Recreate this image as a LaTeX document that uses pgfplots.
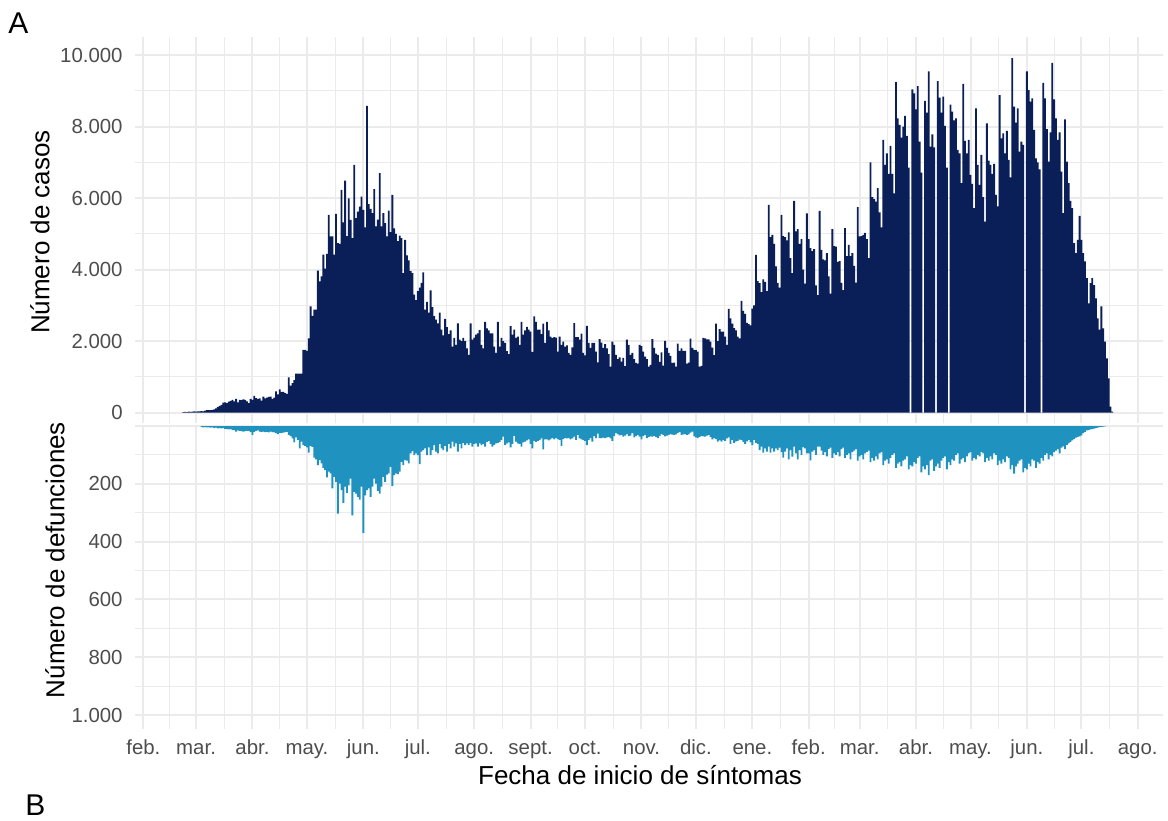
\documentclass[border=0pt]{standalone}
\usepackage{fontspec}
\setmainfont{Liberation Sans}
\usepackage{pgfplots}
\pgfplotsset{compat=1.18}
\definecolor{cases}{HTML}{0A1E57}
\definecolor{deaths}{HTML}{1F92C0}
\definecolor{gridc}{HTML}{EBEBEB}
\definecolor{ticktext}{HTML}{4D4D4D}
\pgfplotsset{
  panel/.style={
    scale only axis, width=514pt,
    xmin=-4.6, xmax=560.9,
    scaled y ticks=false, scaled x ticks=false,
    axis line style={draw=none}, major tick length=0pt, minor tick length=0pt,
    grid=both,
    major grid style={gridc, line width=1pt},
    minor grid style={gridc, line width=0.5pt},
    xtick={0,29,60,90,121,151,182,213,243,274,304,335,366,394,425,455,486,516,547},
    minor xtick={14.5,44.5,75,105.5,136,166.5,197.5,228,258.5,289,319.5,350.5,380,409.5,440,470.5,501,531.5},
    yticklabel style={font=\fontsize{10.2}{12}\selectfont, text=ticktext, anchor=east, inner sep=0pt, xshift=-6pt},
  }
}
\begin{document}
\begin{tikzpicture}
\path[use as bounding box] (0,0) rectangle (584pt,-410pt);
\begin{axis}[panel, at={(67.5pt,-18.65pt)}, anchor=north west, height=193pt,
  ymin=-296, ymax=10495,
  ytick={0,2000,4000,6000,8000,10000}, yticklabels={0,2.000,4.000,6.000,8.000,10.000},
  minor ytick={1000,3000,5000,7000,9000},
  xticklabels={}]
\addplot[ybar, bar width=1.02, bar shift=0pt, fill=cases, draw=none] coordinates {
(22,20)(23,25)(24,20)(25,30)(26,25)(27,30)(28,35)(29,30)(30,40)(31,35)
(32,45)(33,40)(34,60)(35,70)(36,75)(37,70)(38,80)(39,90)(40,120)(41,160)
(42,190)(43,220)(44,280)(45,290)(46,270)(47,310)(48,330)(49,360)(50,320)(51,390)
(52,290)(53,360)(54,350)(55,370)(56,360)(57,320)(58,270)(59,390)(60,360)(61,470)
(62,410)(63,390)(64,400)(65,340)(66,450)(67,400)(68,420)(69,440)(70,450)(71,390)
(72,420)(73,600)(74,510)(75,650)(76,580)(77,580)(78,550)(79,530)(80,990)(81,760)
(82,830)(83,910)(84,1090)(85,1090)(86,1090)(87,1090)(88,1760)(89,1760)(90,1730)(91,2080)
(92,2970)(93,2710)(94,2880)(95,2880)(96,3970)(97,3670)(98,3810)(99,4420)(100,4030)(101,4440)
(102,5530)(103,4930)(104,4930)(105,4420)(106,5560)(107,4740)(108,4720)(109,6230)(110,5320)(111,6490)
(112,4940)(113,5990)(114,5390)(115,4880)(116,6930)(117,5440)(118,5620)(119,5760)(120,6040)(121,5670)
(122,5180)(123,8580)(124,5830)(125,5700)(126,5580)(127,6250)(128,5210)(129,5400)(130,6700)(131,5210)
(132,5580)(133,5300)(134,4930)(135,5650)(136,5050)(137,6090)(138,5150)(139,5000)(140,4800)(141,4950)
(142,4880)(143,3900)(144,4830)(145,4400)(146,4260)(147,3960)(148,3900)(149,3300)(150,3150)(151,3400)
(152,3500)(153,3630)(154,3920)(155,2880)(156,3100)(157,2800)(158,3420)(159,2950)(160,2700)(161,2600)
(162,2500)(163,2800)(164,2320)(165,2160)(166,2620)(167,2390)(168,2200)(169,2300)(170,1850)(171,2090)
(172,1900)(173,2500)(174,2040)(175,2000)(176,2090)(177,2000)(178,1800)(179,1620)(180,2500)(181,2040)
(182,2100)(183,2180)(184,2220)(185,2310)(186,1900)(187,1800)(188,2540)(189,2360)(190,2300)(191,2220)
(192,2220)(193,1850)(194,1670)(195,2540)(196,1850)(197,2090)(198,2000)(199,1950)(200,1720)(201,1640)
(202,2420)(203,2180)(204,2320)(205,2090)(206,2130)(207,1900)(208,2540)(209,2180)(210,2300)(211,2400)
(212,2320)(213,2270)(214,1700)(215,2690)(216,2540)(217,2320)(218,2320)(219,2200)(220,2490)(221,1950)
(222,2540)(223,2300)(224,2130)(225,2090)(226,2110)(227,2100)(228,1710)(229,2130)(230,1900)(231,1990)
(232,1850)(233,1880)(234,1670)(235,1620)(236,1830)(237,2505)(238,2110)(239,2110)(240,2040)(241,2210)
(242,1670)(243,1600)(244,2430)(245,1950)(246,1810)(247,1950)(248,1950)(249,1710)(250,1410)(251,2060)
(252,1960)(253,1810)(254,1920)(255,1800)(256,1640)(257,1290)(258,1990)(259,1900)(260,1620)(261,1500)
(262,1550)(263,1430)(264,1530)(265,1300)(266,2040)(267,1900)(268,1620)(269,1670)(270,1500)(271,1390)
(272,1370)(273,1900)(274,1860)(275,1710)(276,1570)(277,1500)(278,1290)(279,1340)(280,2060)(281,1810)
(282,1650)(283,1620)(284,1420)(285,1690)(286,1320)(287,2010)(288,1810)(289,1670)(290,1590)(291,1390)
(292,1400)(293,1290)(294,1930)(295,1730)(296,1800)(297,1730)(298,1730)(299,1370)(300,1400)(301,2070)
(302,1810)(303,1760)(304,1750)(305,1710)(306,1290)(307,1310)(308,2090)(309,2080)(310,2050)(311,2050)
(312,1990)(313,1820)(314,1610)(315,2490)(316,2000)(317,2340)(318,2270)(319,2270)(320,2130)(321,1900)
(322,2900)(323,2640)(324,2490)(325,2365)(326,2300)(327,2130)(328,2080)(329,3130)(330,2850)(331,2760)
(332,2510)(333,2480)(334,2440)(335,2910)(336,3000)(337,4410)(338,3680)(339,3620)(340,3370)(341,3730)
(342,3660)(343,3400)(344,5810)(345,4910)(346,4970)(347,4720)(348,4090)(349,3630)(350,3500)(351,5530)
(352,4940)(353,4910)(354,4820)(355,5040)(356,4320)(357,3900)(358,5920)(359,5070)(360,5130)(361,4720)
(362,4850)(363,4000)(364,3610)(365,5570)(366,4850)(367,4600)(368,4520)(369,4570)(370,3560)(371,3290)
(372,5640)(373,4550)(374,4290)(375,4260)(376,4460)(377,3810)(378,3330)(379,5130)(380,4660)(381,4640)
(382,4220)(383,4240)(384,3630)(385,3430)(386,5160)(387,4380)(388,4690)(389,4380)(390,4460)(391,4105)
(392,3640)(393,5745)(394,4930)(395,4940)(396,4970)(397,5030)(398,4850)(399,4320)(400,7000)(401,6030)
(402,5970)(403,5900)(404,6280)(405,5600)(406,5180)(407,7630)(408,6930)(409,7250)(410,6680)(411,7460)
(412,6680)(413,6130)(414,9240)(415,8230)(416,8050)(417,7690)(418,8000)(419,8300)(420,7740)(421,6850)
(422,0)(423,9040)(424,8930)(425,8480)(426,9130)(427,7580)(428,6710)(429,0)(430,8720)(431,8390)
(432,9540)(433,7440)(434,7780)(435,7420)(436,0)(437,9270)(438,8810)(439,8390)(440,8840)(441,8020)
(442,6850)(443,0)(444,8610)(445,8420)(446,8170)(447,8230)(448,7350)(449,7250)(450,6420)(451,9190)
(452,7600)(453,7250)(454,7630)(455,6650)(456,6400)(457,5720)(458,8510)(459,6930)(460,6370)(461,7210)
(462,6030)(463,5340)(464,8090)(465,7050)(466,6930)(467,6680)(468,6960)(469,6090)(470,5770)(471,8880)
(472,7670)(473,7810)(474,7250)(475,7880)(476,7070)(477,6580)(478,9910)(479,8560)(480,8110)(481,8510)
(482,7300)(483,7580)(484,7490)(485,0)(486,9540)(487,9020)(488,8700)(489,8790)(490,7910)(491,7110)
(492,7000)(493,6800)(494,0)(495,9220)(496,8790)(497,7930)(498,7020)(499,7840)(500,9780)(501,8760)
(502,8230)(503,7630)(504,7840)(505,6740)(506,5580)(507,8200)(508,7020)(509,6420)(510,5920)(511,5720)
(512,4740)(513,4460)(514,4830)(515,5500)(516,4830)(517,4460)(518,4230)(519,3760)(520,3060)(521,3620)
(522,3760)(523,3570)(524,3200)(525,2640)(526,2320)(527,2970)(528,2360)(529,1990)(530,1520)(531,960)
(532,170)(533,30)
};
\end{axis}
\begin{axis}[panel, at={(67.5pt,-213pt)}, anchor=north west, height=151.5pt,
  y dir=reverse, ymin=0, ymax=1048,
  ytick={0,200,400,600,800,1000}, yticklabels={,200,400,600,800,1.000},
  minor ytick={100,300,500,700,900},
  xticklabels={feb.,mar.,abr.,may.,jun.,jul.,ago.,sept.,oct.,nov.,dic.,ene.,feb.,mar.,abr.,may.,jun.,jul.,ago.},
  xticklabel style={font=\fontsize{10.2}{12}\selectfont, text=ticktext, anchor=base, inner sep=0pt, yshift=-12.75pt}]
\addplot[ybar, bar width=1.02, bar shift=0pt, fill=deaths, draw=none] coordinates {
(32,3)(33,5)(34,4)(35,5)(36,5)(37,6)(38,5)(39,7)(40,6)(41,8)
(42,7)(43,8)(44,7)(45,10)(46,11)(47,12)(48,11)(49,13)(50,14)(51,19)
(52,15)(53,17)(54,18)(55,19)(56,18)(57,17)(58,17)(59,21)(60,31)(61,20)
(62,17)(63,15)(64,19)(65,20)(66,19)(67,21)(68,20)(69,22)(70,19)(71,21)
(72,22)(73,25)(74,28)(75,24)(76,25)(77,23)(78,21)(79,20)(80,31)(81,35)
(82,43)(83,57)(84,39)(85,48)(86,77)(87,54)(88,66)(89,69)(90,74)(91,92)
(92,69)(93,72)(94,109)(95,115)(96,135)(97,118)(98,129)(99,145)(100,153)(101,178)
(102,158)(103,164)(104,216)(105,176)(106,193)(107,303)(108,199)(109,222)(110,266)(111,210)
(112,231)(113,205)(114,182)(115,309)(116,228)(117,234)(118,245)(119,255)(120,210)(121,370)
(122,240)(123,222)(124,216)(125,245)(126,210)(127,182)(128,199)(129,224)(130,234)(131,210)
(132,176)(133,193)(134,168)(135,164)(136,141)(137,208)(138,170)(139,164)(140,166)(141,158)
(142,124)(143,135)(144,118)(145,120)(146,129)(147,95)(148,87)(149,101)(150,95)(151,101)
(152,132)(153,89)(154,83)(155,77)(156,101)(157,74)(158,101)(159,83)(160,66)(161,89)
(162,95)(163,62)(164,77)(165,83)(166,69)(167,89)(168,62)(169,77)(170,54)(171,71)
(172,60)(173,89)(174,62)(175,77)(176,58)(177,66)(178,60)(179,66)(180,58)(181,71)
(182,62)(183,60)(184,71)(185,60)(186,66)(187,62)(188,71)(189,55)(190,51)(191,62)
(192,71)(193,65)(194,60)(195,58)(196,55)(197,48)(198,37)(199,65)(200,60)(201,57)
(202,74)(203,62)(204,34)(205,54)(206,60)(207,62)(208,71)(209,57)(210,54)(211,50)
(212,46)(213,62)(214,77)(215,51)(216,55)(217,51)(218,49)(219,43)(220,81)(221,46)
(222,46)(223,50)(224,46)(225,42)(226,46)(227,42)(228,45)(229,48)(230,69)(231,45)
(232,42)(233,43)(234,42)(235,46)(236,43)(237,37)(238,48)(239,31)(240,43)(241,46)
(242,49)(243,51)(244,66)(245,48)(246,42)(247,54)(248,35)(249,42)(250,26)(251,42)
(252,42)(253,40)(254,42)(255,39)(256,38)(257,43)(258,51)(259,35)(260,25)(261,28)
(262,32)(263,31)(264,37)(265,33)(266,28)(267,35)(268,33)(269,25)(270,39)(271,35)
(272,31)(273,37)(274,46)(275,35)(276,31)(277,42)(278,38)(279,36)(280,37)(281,34)
(282,38)(283,42)(284,35)(285,28)(286,31)(287,36)(288,33)(289,31)(290,28)(291,30)
(292,31)(293,29)(294,25)(295,21)(296,31)(297,29)(298,28)(299,31)(300,29)(301,23)
(302,19)(303,36)(304,39)(305,42)(306,38)(307,34)(308,36)(309,37)(310,33)(311,31)
(312,38)(313,46)(314,42)(315,45)(316,54)(317,50)(318,54)(319,49)(320,51)(321,43)
(322,39)(323,62)(324,48)(325,58)(326,53)(327,51)(328,47)(329,48)(330,55)(331,62)
(332,53)(333,48)(334,57)(335,66)(336,48)(337,58)(338,62)(339,83)(340,71)(341,92)
(342,77)(343,89)(344,71)(345,92)(346,77)(347,89)(348,77)(349,83)(350,75)(351,90)
(352,109)(353,89)(354,77)(355,115)(356,83)(357,106)(358,71)(359,95)(360,115)(361,83)
(362,100)(363,73)(364,77)(365,95)(366,95)(367,119)(368,89)(369,83)(370,100)(371,71)
(372,71)(373,85)(374,100)(375,90)(376,105)(377,80)(378,75)(379,110)(380,95)(381,100)
(382,90)(383,105)(384,80)(385,75)(386,110)(387,100)(388,95)(389,115)(390,90)(391,85)
(392,80)(393,120)(394,105)(395,100)(396,115)(397,95)(398,90)(399,85)(400,125)(401,110)
(402,120)(403,105)(404,115)(405,95)(406,90)(407,135)(408,120)(409,115)(410,130)(411,110)
(412,100)(413,95)(414,145)(415,130)(416,125)(417,140)(418,120)(419,115)(420,105)(421,150)
(422,135)(423,140)(424,125)(425,130)(426,110)(427,105)(428,160)(429,140)(430,150)(431,135)
(432,170)(433,120)(434,115)(435,155)(436,140)(437,130)(438,145)(439,120)(440,110)(441,105)
(442,150)(443,125)(444,135)(445,115)(446,120)(447,100)(448,95)(449,130)(450,115)(451,110)
(452,125)(453,105)(454,95)(455,90)(456,120)(457,110)(458,115)(459,100)(460,105)(461,90)
(462,95)(463,125)(464,110)(465,120)(466,105)(467,115)(468,95)(469,100)(470,135)(471,120)
(472,130)(473,115)(474,125)(475,105)(476,110)(477,150)(478,135)(479,165)(480,140)(481,130)
(482,120)(483,115)(484,160)(485,145)(486,150)(487,130)(488,140)(489,115)(490,120)(491,145)
(492,125)(493,130)(494,110)(495,120)(496,100)(497,95)(498,115)(499,100)(500,105)(501,90)
(502,85)(503,80)(504,95)(505,75)(506,70)(507,80)(508,65)(509,60)(510,55)(511,50)
(512,45)(513,40)(514,38)(515,36)(516,32)(517,25)(518,20)(519,15)(520,14)(521,12)
(522,11)(523,9)(524,7)(525,6)(526,4)(527,3)(528,2)(529,1)
};
\end{axis}
\node[anchor=base west, inner sep=0pt, font=\fontsize{15}{18}\selectfont] at (4pt,-16.5pt) {A};
\node[anchor=base west, inner sep=0pt, font=\fontsize{15}{18}\selectfont] at (12.5pt,-407.5pt) {B};
\node[rotate=90, anchor=center, inner sep=0pt, font=\fontsize{13}{15}\selectfont] at (20pt,-116pt) {Número de casos};
\node[rotate=90, anchor=center, inner sep=0pt, font=\fontsize{13}{15}\selectfont] at (27.5pt,-280pt) {Número de defunciones};
\node[anchor=base, inner sep=0pt, font=\fontsize{13}{15}\selectfont] at (320pt,-392pt) {Fecha de inicio de síntomas};
\end{tikzpicture}
\end{document}
